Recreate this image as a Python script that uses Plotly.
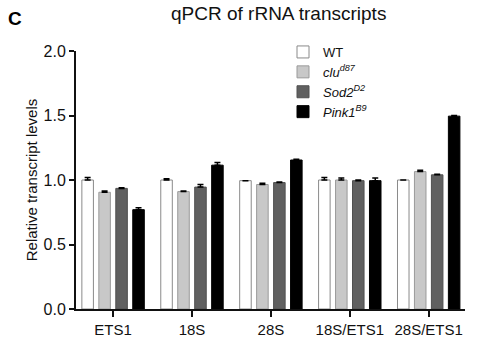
import plotly.graph_objects as go

categories = ["ETS1", "18S", "28S", "18S/ETS1", "28S/ETS1"]
series_names = ["WT", "<i>clu</i><sup><i>d87</i></sup>", "<i>Sod2</i><sup><i>D2</i></sup>", "<i>Pink1</i><sup><i>B9</i></sup>"]
wt = [1.00, 1.00, 0.995, 1.00, 1.00]
clu = [0.905, 0.91, 0.965, 1.00, 1.065]
sod2 = [0.935, 0.945, 0.98, 0.995, 1.04]
pink1 = [0.77, 1.115, 1.155, 0.995, 1.495]
wt_err = [0.02, 0.01, 0.0, 0.02, 0.0]
clu_err = [0.01, 0.005, 0.01, 0.015, 0.01]
sod2_err = [0.005, 0.02, 0.005, 0.005, 0.005]
pink1_err = [0.015, 0.02, 0.005, 0.02, 0.005]

values = [wt, clu, sod2, pink1]
errors = [wt_err, clu_err, sod2_err, pink1_err]
fills = ["#ffffff", "#c8c8c8", "#606060", "#000000"]
outlines = ["#8a8a8a", "#9a9a9a", "#505050", "#000000"]

fig = go.Figure()
for name, v, e, fc, lc in zip(series_names, values, errors, fills, outlines):
    fig.add_trace(go.Bar(
        x=categories, y=v, name=name,
        marker=dict(color=fc, line=dict(color=lc, width=1)),
        error_y=dict(type="data", symmetric=False, array=e, arrayminus=[0]*len(e),
                     color="#000000", thickness=1.5, width=3),
    ))

font_family = "Liberation Sans, Arial, sans-serif"
fig.update_layout(
    width=485, height=353,
    margin=dict(l=76, r=20, t=51, b=44),
    paper_bgcolor="white", plot_bgcolor="white",
    barmode="group", bargap=0.14, bargroupgap=0.32,
    font=dict(family=font_family, color="#111111", size=14),
    showlegend=True,
    legend=dict(x=(283-76)/389, y=(309-37)/258, xanchor="left", yanchor="top",
                font=dict(size=13, color="#111111"), tracegroupgap=0,
                itemwidth=30, bgcolor="rgba(0,0,0,0)", traceorder="normal"),
)
fig.add_annotation(text="qPCR of rRNA transcripts", xref="paper", yref="paper",
                   x=(278-76)/389, y=(309-14)/258, xanchor="center", yanchor="middle",
                   showarrow=False, font=dict(size=19, color="#111111"))
fig.add_annotation(text="<b>C</b>", xref="paper", yref="paper",
                   x=(15-76)/389, y=(309-18)/258, xanchor="center", yanchor="middle",
                   showarrow=False, font=dict(size=19, color="#000000"))

fig.update_yaxes(range=[0, 2], tickvals=[0, 0.5, 1.0, 1.5, 2.0],
                 ticktext=["0.0", "0.5", "1.0", "1.5", "2.0"],
                 showline=True, linewidth=2, linecolor="#111111",
                 ticks="outside", ticklen=5, tickwidth=2, tickcolor="#111111",
                 showgrid=False, zeroline=False,
                 title=dict(text="Relative transcript levels", font=dict(size=15), standoff=2),
                 tickfont=dict(size=16))
fig.update_xaxes(range=[-0.47, 4.46], showline=True, linewidth=2, linecolor="#111111",
                 ticks="outside", ticklen=6, tickwidth=2, tickcolor="#111111",
                 showgrid=False, tickfont=dict(size=15))

fig.write_html("out.html")
